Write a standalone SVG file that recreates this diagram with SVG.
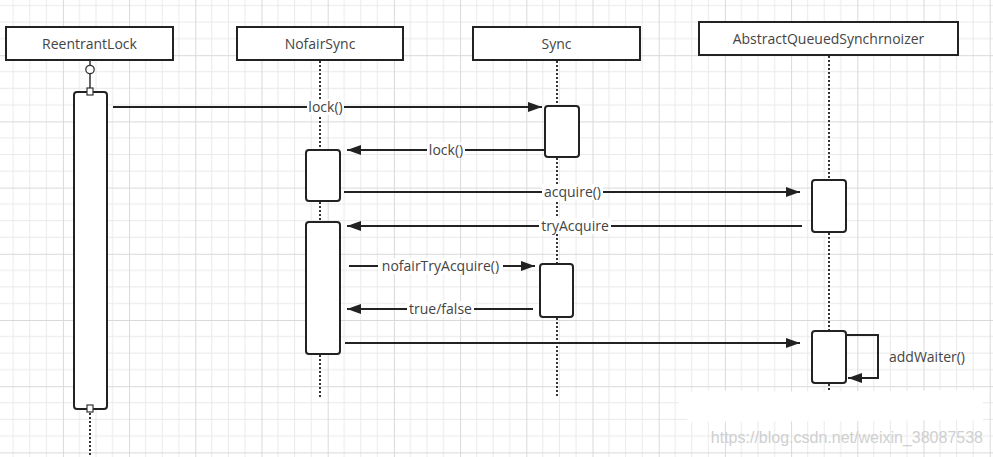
<svg xmlns="http://www.w3.org/2000/svg" width="993" height="457" viewBox="0 0 993 457">
  <defs>
    <pattern id="grid" width="66.2" height="66.2" patternUnits="userSpaceOnUse" patternTransform="translate(62.9 55.2)">
      <path d="M16.55 0V66.2M33.1 0V66.2M49.65 0V66.2M0 16.55H66.2M0 33.1H66.2M0 49.65H66.2" stroke="#e9e9e9" stroke-width="1" fill="none"/>
      <path d="M0.5 0V66.2M0 0.5H66.2" stroke="#d9d9d9" stroke-width="1" fill="none"/>
    </pattern>
    <marker id="arr" markerUnits="userSpaceOnUse" markerWidth="16" markerHeight="12" refX="14" refY="5" orient="auto">
      <path d="M0,0 L14,5 L0,10 z" fill="#222"/>
    </marker>
    <style>
      .hdr{fill:#fff;stroke:#222;stroke-width:2}
      .act{fill:#fff;stroke:#222;stroke-width:2}
      .life{stroke:#333;stroke-width:2;stroke-dasharray:2 2;fill:none}
      .msg{stroke:#222;stroke-width:2;fill:none}
      .t{font-family:"Open Sans","Liberation Sans",Arial,sans-serif;font-size:14px;fill:#444;text-anchor:middle}
      .lbg{fill:#fff}
    </style>
  </defs>
  <rect width="993" height="457" fill="#fff"/>
  <rect width="993" height="457" fill="url(#grid)"/>

  <g id="ReentrantLock">
    <rect class="hdr" x="6" y="27" width="167" height="33"/>
    <text class="t" x="89.5" y="48.5">ReentrantLock</text>
    <line x1="90" y1="60" x2="90" y2="65" stroke="#333" stroke-width="1.5"/>
    <circle cx="90" cy="69.5" r="4.2" fill="#fff" stroke="#333" stroke-width="1.3"/>
    <line x1="90" y1="74" x2="90" y2="88" stroke="#333" stroke-width="1.5"/>
    <rect class="act" x="74" y="92" width="33" height="317" rx="3"/>
    <rect x="87" y="88" width="6" height="7" fill="#fff" stroke="#333" stroke-width="1.2"/>
    <rect x="87" y="405" width="6" height="7" fill="#fff" stroke="#333" stroke-width="1.2"/>
    <line class="life" x1="90" y1="413" x2="90" y2="457"/>
  </g>

  <g id="NofairSync">
    <rect class="hdr" x="237" y="27" width="166" height="33"/>
    <text class="t" x="320" y="48.5">NofairSync</text>
    <line class="life" x1="320" y1="61" x2="320" y2="150"/>
    <rect class="act" x="306" y="150" width="34" height="51" rx="3"/>
    <line class="life" x1="320" y1="202" x2="320" y2="222"/>
    <rect class="act" x="306" y="222" width="34" height="132" rx="3"/>
    <line class="life" x1="320" y1="355" x2="320" y2="397"/>
  </g>

  <g id="Sync">
    <rect class="hdr" x="473" y="27" width="167" height="33"/>
    <text class="t" x="556.5" y="48.5">Sync</text>
    <line class="life" x1="557" y1="61" x2="557" y2="106"/>
    <rect class="act" x="545" y="106" width="34" height="51" rx="3"/>
    <line class="life" x1="557" y1="158" x2="557" y2="264"/>
    <rect class="act" x="540" y="264" width="33" height="53" rx="3"/>
    <line class="life" x1="557" y1="318" x2="557" y2="397"/>
  </g>

  <g id="AbstractQueuedSynchrnoizer">
    <rect class="hdr" x="699" y="22" width="259" height="33"/>
    <text class="t" x="828.5" y="43.5">AbstractQueuedSynchrnoizer</text>
    <line class="life" x1="829" y1="56" x2="829" y2="180"/>
    <rect class="act" x="812" y="180" width="34" height="52" rx="3"/>
    <line class="life" x1="829" y1="233" x2="829" y2="331"/>
    <rect class="act" x="812" y="331" width="34" height="52" rx="3"/>
    <line class="life" x1="829" y1="384" x2="829" y2="392"/>
  </g>

  <g id="connectors">
    <line class="msg" x1="113" y1="107" x2="542" y2="107" marker-end="url(#arr)"/>
    <rect class="lbg" x="307" y="99" width="37" height="16"/>
    <text class="t" x="325.5" y="112">lock()</text>

    <line class="msg" x1="545" y1="150" x2="347" y2="150" marker-end="url(#arr)"/>
    <rect class="lbg" x="427" y="142" width="38" height="16"/>
    <text class="t" x="446" y="155">lock()</text>

    <line class="msg" x1="344" y1="192" x2="800" y2="192" marker-end="url(#arr)"/>
    <rect class="lbg" x="542" y="184" width="61" height="16"/>
    <text class="t" x="572.5" y="197">acquire()</text>

    <line class="msg" x1="802" y1="226" x2="347" y2="226" marker-end="url(#arr)"/>
    <rect class="lbg" x="539" y="218" width="72" height="16"/>
    <text class="t" x="575" y="231">tryAcquire</text>

    <line class="msg" x1="349" y1="266" x2="535" y2="266" marker-end="url(#arr)"/>
    <rect class="lbg" x="378" y="258" width="125" height="16"/>
    <text class="t" x="440.5" y="271">nofairTryAcquire()</text>

    <line class="msg" x1="533" y1="309" x2="347" y2="309" marker-end="url(#arr)"/>
    <rect class="lbg" x="407" y="301" width="67" height="16"/>
    <text class="t" x="440.5" y="314">true/false</text>

    <line class="msg" x1="345" y1="343" x2="800" y2="343" marker-end="url(#arr)"/>

    <path class="msg" d="M847 335H878V378H848" marker-end="url(#arr)"/>
    <text class="t" x="927" y="362">addWaiter()</text>
  </g>

  <path d="M680 395 Q700 388 760 392 L983 390 L983 420 L690 422 Q675 410 680 395 z" fill="#fff"/>
  <text x="983" y="443" style="font-family:'Liberation Sans',Arial,sans-serif;font-size:16px;fill:#cfcfcf;text-anchor:end">https://blog.csdn.net/weixin_38087538</text>
</svg>
